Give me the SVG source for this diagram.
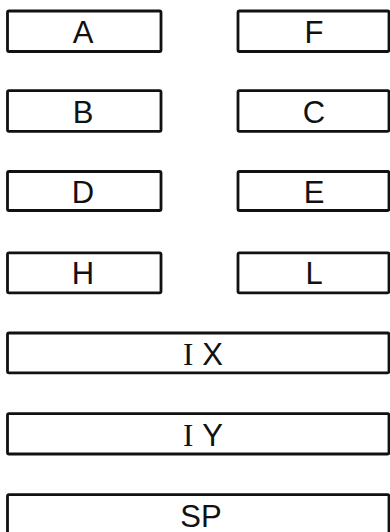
<svg xmlns="http://www.w3.org/2000/svg" width="390" height="532" viewBox="0 0 390 532">
<style>
.box{fill:#fff;stroke:#111;stroke-width:2.8}
.lbl{font-family:"Liberation Sans",Arial,sans-serif;font-size:31px;fill:#111;text-anchor:middle}
.ser{font-family:"Liberation Serif","Times New Roman",serif}
</style>
<rect width="390" height="532" fill="#fff"/>
<g id="A"><rect class="box" x="7.5" y="11" width="153.5" height="40.5" rx="1.5"/><text class="lbl" x="83" y="42.8">A</text></g>
<g id="F"><rect class="box" x="238" y="11" width="151" height="40.5" rx="1.5"/><text class="lbl" x="314" y="42.8">F</text></g>
<g id="B"><rect class="box" x="7.5" y="90.7" width="153.5" height="40.6" rx="1.5"/><text class="lbl" x="83" y="122.5">B</text></g>
<g id="C"><rect class="box" x="238" y="90.7" width="151" height="40.6" rx="1.5"/><text class="lbl" x="314" y="122.5">C</text></g>
<g id="D"><rect class="box" x="7.5" y="171.5" width="153.5" height="39" rx="1.5"/><text class="lbl" x="83" y="202.5">D</text></g>
<g id="E"><rect class="box" x="238" y="171.5" width="151" height="39" rx="1.5"/><text class="lbl" x="314" y="202.5">E</text></g>
<g id="H"><rect class="box" x="7.5" y="252.8" width="153.5" height="40" rx="1.5"/><text class="lbl" x="83" y="284.3">H</text></g>
<g id="L"><rect class="box" x="238" y="252.8" width="151" height="40" rx="1.5"/><text class="lbl" x="314" y="284.3">L</text></g>
<g id="IX"><rect class="box" x="7.5" y="333" width="381.5" height="39.8" rx="1.5"/><text class="lbl" x="203" y="364.5"><tspan class="ser">I</tspan><tspan dx="9">X</tspan></text></g>
<g id="IY"><rect class="box" x="7.5" y="413.7" width="381.5" height="40.3" rx="1.5"/><text class="lbl" x="203" y="445.5"><tspan class="ser">I</tspan><tspan dx="9">Y</tspan></text></g>
<g id="SP"><rect class="box" x="7.5" y="494.7" width="381.5" height="40" rx="1.5"/><text class="lbl" x="201" y="526.5">SP</text></g>
<g id="connectors"></g>
</svg>
